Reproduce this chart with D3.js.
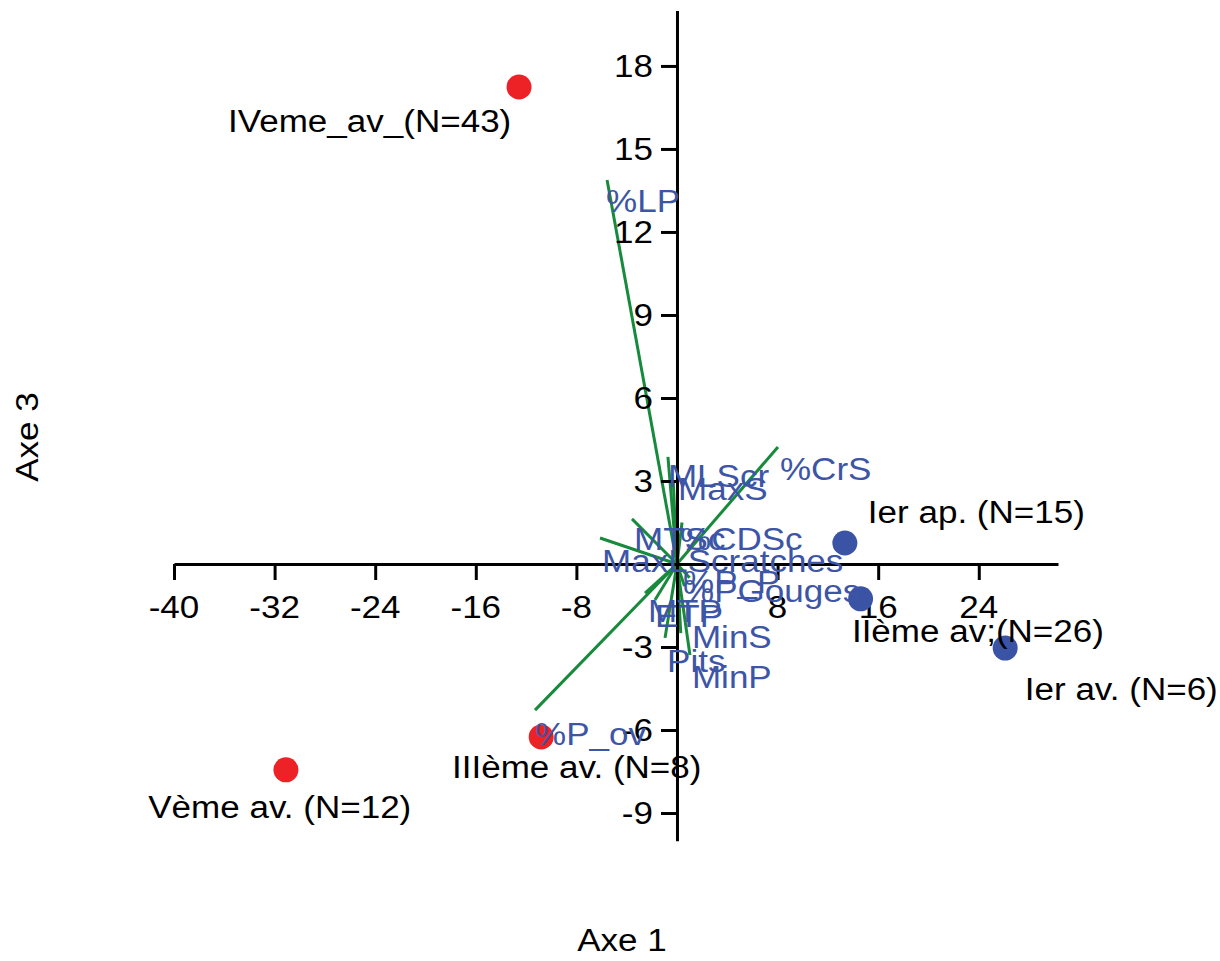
<!DOCTYPE html>
<html><head><meta charset="utf-8">
<script src="https://cdn.jsdelivr.net/npm/d3@7"></script>
<style>body{margin:0;background:#fff}svg{display:block}text{font-family:"Liberation Sans",Arial,sans-serif}</style>
</head><body>
<svg id="c" width="1220" height="961"></svg>
<script>
// ---- data ----
const xTicks = [-40, -32, -24, -16, -8, 8, 16, 24];
const yTicks = [18, 15, 12, 9, 6, 3, -3, -6, -9];

const groupNames = ["IVeme_av_(N=43)", "Vème av. (N=12)", "IIIème av. (N=8)", "Ier ap. (N=15)", "IIème av;(N=26)", "Ier av. (N=6)"];
const groupX = [-12.56, -31.1, -10.8, 13.35, 14.6, 26.1];
const groupY = [17.24, -7.44, -6.25, 0.76, -1.26, -3.04];
const groupSide = ["red", "red", "red", "blue", "blue", "blue"];
const groupLabelX = [-35.7, -42.05, -17.89, 15.18, 13.91, 27.66];
const groupLabelY = [15.61, -9.18, -7.73, 1.48, -2.82, -4.92];

const varNames = ["%LP", "%CrS", "%P_ov", "MLScr", "MaxS", "MaxLScratches", "MTSc", "%CDSc", "%P_P", "%PGouges", "MTP", "ETP", "MinS", "Pits", "MinP"];
const varX = [-5.56, 8.03, -11.29, -0.72, -0.3, -6.12, -3.58, 0.4, 0.6, 1.0, -2.54, -1.75, 0.3, -0.95, 1.03];
const varY = [13.88, 4.23, -5.28, 3.87, 3.0, 0.94, 1.63, 1.5, -0.8, -0.5, -1.05, -1.3, -2.5, -2.67, -3.29];
const varLabelX = [-5.64, 8.19, -11.29, -0.72, 0.08, -5.96, -3.42, 0.24, 0.48, 0.48, -2.31, -1.75, 1.19, -0.79, 1.19];
const varLabelY = [12.72, 3.04, -6.54, 2.78, 2.31, -0.29, 0.51, 0.51, -1.05, -1.37, -2.10, -2.28, -3.04, -3.90, -4.48];

const xTitle = "Axe 1", yTitle = "Axe 3";

// ---- drawing ----
const colors = {red: "#ec2227", blue: "#3b53a4"};
const green = "#178a3c", textBlue = "#3d55a6";
const SX = 1.13, FS = 31;

const svg = d3.select("#c");
const x = d3.scaleLinear().domain([-40, 30.3]).range([174, 1058]);
const y = d3.scaleLinear().domain([-10, 20]).range([840.7, 10.6]);
const x0 = x(0), y0 = y(0);

function label(g, px, py, txt, fill, anchor, size) {
  g.append("text")
    .attr("transform", `translate(${px},${py}) scale(${SX},1)`)
    .attr("text-anchor", anchor || "start")
    .attr("font-size", size || FS)
    .attr("fill", fill)
    .text(txt);
}

// vectors
svg.append("g").selectAll("line").data(varNames).join("line")
  .attr("x1", x0).attr("y1", y0)
  .attr("x2", (d, i) => x(varX[i])).attr("y2", (d, i) => y(varY[i]))
  .attr("stroke", green).attr("stroke-width", 3);

// axes
const axX = svg.append("g").attr("transform", `translate(0,${y0})`)
  .call(d3.axisBottom(x).tickValues(xTicks).tickSize(16).tickSizeOuter(0).tickFormat(() => ""));
const axY = svg.append("g").attr("transform", `translate(${x0},0)`)
  .call(d3.axisLeft(y).tickValues(yTicks).tickSize(16).tickSizeOuter(0).tickFormat(() => ""));
[axX, axY].forEach(a => {
  a.select(".domain").attr("stroke", "#000").attr("stroke-width", 3);
  a.selectAll(".tick line").attr("stroke", "#000").attr("stroke-width", 3);
});
const tl = svg.append("g");
xTicks.forEach(v => label(tl, x(v), y0 + 54, String(v), "#000", "middle"));
yTicks.forEach(v => label(tl, x0 - 24, y(v) + 11, String(v), "#000", "end"));

// points
svg.append("g").selectAll("circle").data(groupNames).join("circle")
  .attr("cx", (d, i) => x(groupX[i])).attr("cy", (d, i) => y(groupY[i]))
  .attr("r", 12.5).attr("fill", (d, i) => colors[groupSide[i]]);

// variable labels
const vl = svg.append("g");
varNames.forEach((n, i) => label(vl, x(varLabelX[i]), y(varLabelY[i]), n, textBlue, "start", 31));

// group labels
const gl = svg.append("g");
groupNames.forEach((n, i) => label(gl, x(groupLabelX[i]), y(groupLabelY[i]), n, "#000"));

// axis titles
label(svg, 622, 951, xTitle, "#000", "middle", 31);
svg.append("text").attr("transform", "translate(38,437) rotate(-90) scale(1.13,1)")
  .attr("text-anchor", "middle").attr("font-size", 31).attr("fill", "#000").text(yTitle);
</script>
</body></html>
